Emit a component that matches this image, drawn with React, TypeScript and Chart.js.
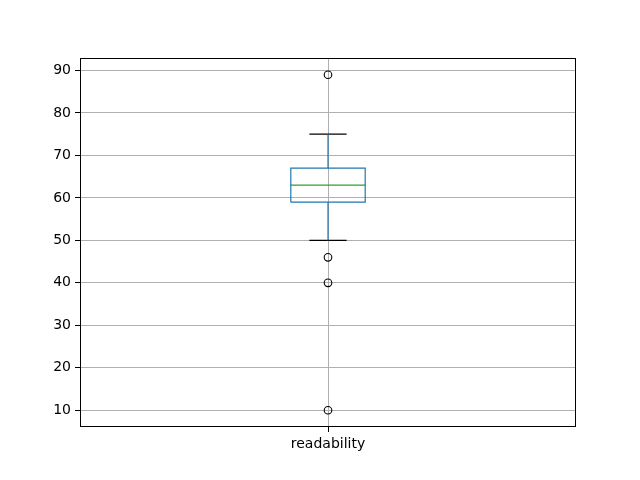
import React, { useEffect, useRef } from "react";
import { Chart, registerables } from "chart.js";

Chart.register(...registerables);

// Data
const categories = ["readability"];
const boxQuartiles = [59, 63, 67]; // Q1, median, Q3
const whiskers = [50, 75]; // low, high
const outliers = [89, 46, 40, 10];
const yTickValues = [10, 20, 30, 40, 50, 60, 70, 80, 90];

const BOX_HALF = 0.075;
const CAP_HALF = 0.0375;

const framePlugin = {
  id: "frame",
  afterDraw(chart: any) {
    const { ctx, chartArea } = chart;
    ctx.save();
    ctx.strokeStyle = "#000";
    ctx.lineWidth = 1;
    const l = Math.round(chartArea.left) + 0.5;
    const t = Math.round(chartArea.top) + 0.5;
    const r = Math.round(chartArea.right) - 0.5;
    const b = Math.round(chartArea.bottom) - 0.5;
    ctx.strokeRect(l, t, r - l, b - t);
    ctx.restore();
  },
};

export default function App() {
  const ref = useRef<HTMLCanvasElement | null>(null);

  useEffect(() => {
    if (!ref.current) return;
    const [q1, med, q3] = boxQuartiles;
    const [wLo, wHi] = whiskers;
    const c = 1;
    const all = [wLo, wHi, ...outliers];
    const lo = Math.min(...all);
    const hi = Math.max(...all);
    const pad = 0.05 * (hi - lo);

    const line = (pts: { x: number; y: number }[], color: string) => ({
      type: "scatter" as const,
      data: pts,
      showLine: true,
      borderColor: color,
      backgroundColor: color,
      borderWidth: 1.2,
      pointRadius: 0,
      fill: false,
    });

    const chart = new Chart(ref.current, {
      type: "scatter",
      data: {
        datasets: [
          line(
            [
              { x: c - BOX_HALF, y: q1 },
              { x: c + BOX_HALF, y: q1 },
              { x: c + BOX_HALF, y: q3 },
              { x: c - BOX_HALF, y: q3 },
              { x: c - BOX_HALF, y: q1 },
            ],
            "#1f77b4"
          ),
          line([{ x: c, y: q1 }, { x: c, y: wLo }], "#1f77b4"),
          line([{ x: c, y: q3 }, { x: c, y: wHi }], "#1f77b4"),
          line([{ x: c - CAP_HALF, y: wLo }, { x: c + CAP_HALF, y: wLo }], "#000000"),
          line([{ x: c - CAP_HALF, y: wHi }, { x: c + CAP_HALF, y: wHi }], "#000000"),
          line([{ x: c - BOX_HALF, y: med }, { x: c + BOX_HALF, y: med }], "#2ca02c"),
          {
            type: "scatter" as const,
            data: outliers.map((v) => ({ x: c, y: v })),
            showLine: false,
            pointRadius: 3.8,
            pointBorderWidth: 1.1,
            pointBorderColor: "#000000",
            pointBackgroundColor: "rgba(0,0,0,0)",
          },
        ] as any,
      },
      options: {
        animation: false,
        responsive: false,
        layout: { padding: { left: 0, top: 58, right: 64, bottom: 0 } },
        plugins: { legend: { display: false }, tooltip: { enabled: false } },
        scales: {
          x: {
            type: "linear",
            min: 0.5,
            max: 1.5,
            afterBuildTicks: (s: any) => {
              s.ticks = categories.map((_, i) => ({ value: i + 1 }));
            },
            afterFit: (s: any) => {
              s.height = 53;
            },
            ticks: {
              callback: (v: any) => categories[Math.round(Number(v)) - 1] ?? "",
              color: "#000",
              font: { family: "DejaVu Sans", size: 14 },
              padding: 4,
              maxRotation: 0,
            },
            grid: {
              color: "#b0b0b0",
              lineWidth: 1,
              tickLength: 5,
              tickColor: "#000",
              tickWidth: 1,
            },
            border: { display: false },
          },
          y: {
            type: "linear",
            min: lo - pad,
            max: hi + pad,
            afterBuildTicks: (s: any) => {
              s.ticks = yTickValues.map((v) => ({ value: v }));
            },
            afterFit: (s: any) => {
              s.width = 80;
            },
            ticks: {
              color: "#000",
              font: { family: "DejaVu Sans", size: 14 },
              padding: 4,
            },
            grid: {
              color: "#b0b0b0",
              lineWidth: 1,
              tickLength: 5,
              tickColor: "#000",
              tickWidth: 1,
            },
            border: { display: false },
          },
        },
      } as any,
      plugins: [framePlugin],
    });
    return () => chart.destroy();
  }, []);

  return (
    <div style={{ position: "absolute", left: 0, top: 0, width: 640, height: 480, background: "#fff" }}>
      <canvas ref={ref} width={640} height={480} style={{ display: "block" }} />
    </div>
  );
}
